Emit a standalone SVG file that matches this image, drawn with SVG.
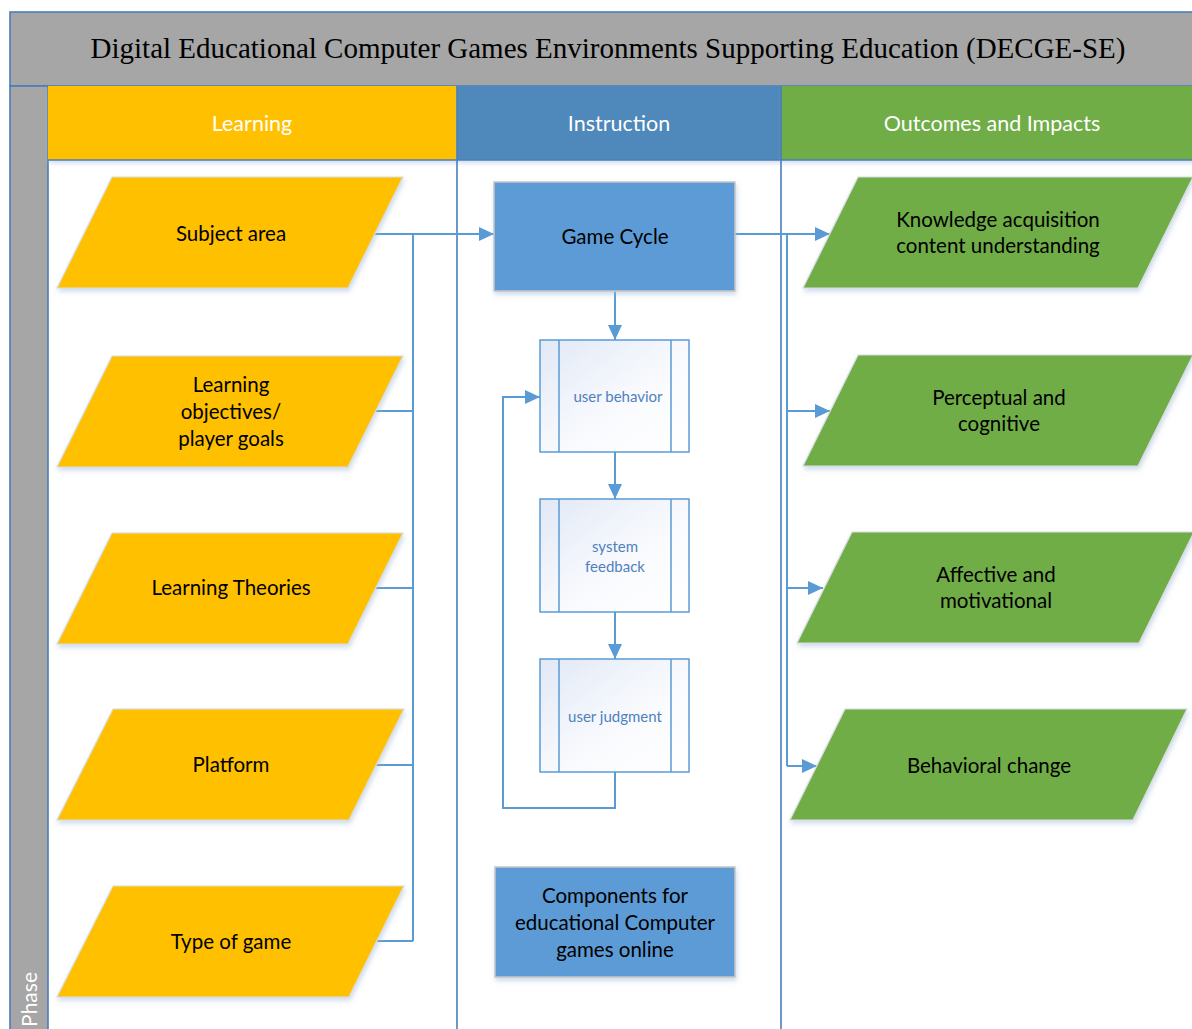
<svg xmlns="http://www.w3.org/2000/svg" width="1192" height="1029" viewBox="0 0 1192 1029">
<style>
.hdr{font-family:Lato,"Liberation Sans",sans-serif;font-size:21.5px;fill:#fff;text-anchor:middle}
.lbl{font-family:Lato,"Liberation Sans",sans-serif;font-size:20.5px;fill:#000;text-anchor:middle}
.sub{font-family:Lato,"Liberation Sans",sans-serif;font-size:15px;fill:#4F81BD;text-anchor:middle}
.yel{fill:#FFC000;stroke:#D9DDE3;stroke-width:1.2;filter:url(#sh)}
.grn{fill:#70AD47;stroke:#D9DDE3;stroke-width:1.2;filter:url(#sh)}
.blu{fill:#5B9BD5;stroke:#C6C6C6;stroke-width:1.5;filter:url(#sh)}
.proc{fill:url(#pg);stroke:#5B9BD5;stroke-width:1.5}
.con{fill:none;stroke:#5B9BD5;stroke-width:2}
.sep{stroke:#4A7EBB;stroke-width:1.6}
</style>
<defs>
<filter id="sh" x="-10%" y="-10%" width="125%" height="130%">
<feDropShadow dx="1" dy="3" stdDeviation="2.5" flood-color="#9DB6D6" flood-opacity="0.5"/>
</filter>
<linearGradient id="pg" x1="0" y1="0" x2="1" y2="1">
<stop offset="0" stop-color="#E1E9F6"/>
<stop offset="0.6" stop-color="#FAFBFE"/>
<stop offset="1" stop-color="#FFFFFF"/>
</linearGradient>
<marker id="ar" markerUnits="userSpaceOnUse" markerWidth="16" markerHeight="14" refX="15" refY="7" orient="auto">
<path d="M0,0 L15,7 L0,14 Z" fill="#5B9BD5"/>
</marker>
</defs>
<rect width="1192" height="1029" fill="#fff"/>
<g id="frame">
<rect x="10" y="12" width="1190" height="74" fill="#A6A6A6" stroke="#4A7EBB" stroke-width="1.6"/>
<text x="608" y="58" font-family="Liberation Serif,serif" font-size="29" fill="#000" text-anchor="middle">Digital Educational Computer Games Environments Supporting Education (DECGE-SE)</text>
<rect x="10" y="86" width="38" height="960" fill="#A6A6A6" stroke="#4A7EBB" stroke-width="1.6"/>
<text transform="translate(37,972) rotate(-90)" font-family="Lato,'Liberation Sans',sans-serif" font-size="21" fill="#fff" text-anchor="end">Phase</text>
</g>
<g id="headers">
<rect x="48" y="86" width="409" height="74" fill="#FFC000" filter="url(#sh)"/>
<rect x="457" y="86" width="324" height="74" fill="#4F88BB" filter="url(#sh)"/>
<rect x="781" y="86" width="420" height="74" fill="#70AD47" filter="url(#sh)"/>
<line x1="48" y1="160" x2="1192" y2="160" class="sep"/>
<line x1="457" y1="86" x2="457" y2="1029" class="sep"/>
<line x1="781" y1="86" x2="781" y2="1029" class="sep"/>
<text x="252" y="131" class="hdr">Learning</text>
<text x="619" y="131" class="hdr">Instruction</text>
<text x="992" y="131" class="hdr">Outcomes and Impacts</text>
</g>
<g id="connectors">
<path class="con" d="M375,234 H494" marker-end="url(#ar)"/>
<path class="con" d="M413,234 V941"/>
<path class="con" d="M375,411 H413 M375,588 H413 M375,765 H413 M375,941 H413"/>
<path class="con" d="M615,291 V340" marker-end="url(#ar)"/>
<path class="con" d="M615,452 V499" marker-end="url(#ar)"/>
<path class="con" d="M615,612 V659" marker-end="url(#ar)"/>
<path class="con" d="M615,772 V808 H503 V397 H540" marker-end="url(#ar)"/>
<path class="con" d="M735,234 H830" marker-end="url(#ar)"/>
<path class="con" d="M787,234 V766"/>
<path class="con" d="M787,411 H830" marker-end="url(#ar)"/>
<path class="con" d="M787,588 H823" marker-end="url(#ar)"/>
<path class="con" d="M787,766 H817" marker-end="url(#ar)"/>
</g>
<g id="subject-area">
<polygon class="yel" points="112,177 403,177 348,288 57,288"/>
<text x="231" y="241" class="lbl">Subject area</text>
</g>
<g id="learning-objectives">
<polygon class="yel" points="112,356 403,356 348,467 57,467"/>
<text x="231" y="392" class="lbl">Learning</text>
<text x="231" y="419" class="lbl">objectives/</text>
<text x="231" y="446" class="lbl">player goals</text>
</g>
<g id="learning-theories">
<polygon class="yel" points="112,533 403,533 348,644 57,644"/>
<text x="231" y="595" class="lbl">Learning Theories</text>
</g>
<g id="platform">
<polygon class="yel" points="113,709 404,709 349,820 57,820"/>
<text x="231" y="772" class="lbl">Platform</text>
</g>
<g id="type-of-game">
<polygon class="yel" points="113,886 404,886 349,997 57,997"/>
<text x="231" y="949" class="lbl">Type of game</text>
</g>
<g id="game-cycle">
<rect class="blu" x="494" y="182" width="241" height="109"/>
<text x="615" y="244" class="lbl">Game Cycle</text>
</g>
<g id="user-behavior">
<rect class="proc" x="540" y="340" width="149" height="112"/>
<path d="M559,340 V452 M671,340 V452" stroke="#5B9BD5" stroke-width="1.5"/>
<text x="618" y="402" class="sub">user behavior</text>
</g>
<g id="system-feedback">
<rect class="proc" x="540" y="499" width="149" height="113"/>
<path d="M559,499 V612 M671,499 V612" stroke="#5B9BD5" stroke-width="1.5"/>
<text x="615" y="552" class="sub">system</text>
<text x="615" y="572" class="sub">feedback</text>
</g>
<g id="user-judgment">
<rect class="proc" x="540" y="659" width="149" height="113"/>
<path d="M559,659 V772 M671,659 V772" stroke="#5B9BD5" stroke-width="1.5"/>
<text x="615" y="722" class="sub">user judgment</text>
</g>
<g id="components">
<rect class="blu" x="495" y="867" width="240" height="110"/>
<text x="615" y="903" class="lbl">Components for</text>
<text x="615" y="930" class="lbl">educational Computer</text>
<text x="615" y="957" class="lbl">games online</text>
</g>
<g id="knowledge">
<polygon class="grn" points="858,177 1193,177 1138,288 803,288"/>
<text x="998" y="227" class="lbl">Knowledge acquisition</text>
<text x="998" y="253" class="lbl">content understanding</text>
</g>
<g id="perceptual">
<polygon class="grn" points="858,355 1193,355 1138,466 803,466"/>
<text x="999" y="405" class="lbl">Perceptual and</text>
<text x="999" y="431" class="lbl">cognitive</text>
</g>
<g id="affective">
<polygon class="grn" points="852,532 1194,532 1139,643 797,643"/>
<text x="996" y="582" class="lbl">Affective and</text>
<text x="996" y="608" class="lbl">motivational</text>
</g>
<g id="behavioral">
<polygon class="grn" points="845,709 1187,709 1133,820 790,820"/>
<text x="989" y="773" class="lbl">Behavioral change</text>
</g>
</svg>
